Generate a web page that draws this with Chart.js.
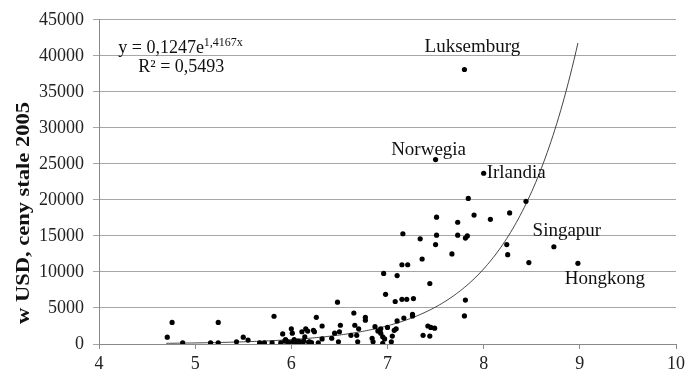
<!DOCTYPE html>
<html><head><meta charset="utf-8">
<script src="https://cdn.jsdelivr.net/npm/chart.js@4/dist/chart.umd.min.js"></script>
<style>html,body{margin:0;padding:0;background:#fff}</style>
</head><body>
<canvas id="c" width="689" height="372" style="width:689px;height:372px;display:block"></canvas>
<script>
// Scatter data: log-variable (x) vs value in USD (y)
const xValues = [4.71,4.76,4.87,5.16,5.24,5.24,5.43,5.50,5.55,5.67,5.72,5.80,5.82,5.89,5.91,5.93,5.96,6.00,6.01,6.03,
  6.06,6.07,6.11,6.12,6.14,6.15,6.17,6.19,6.21,6.23,6.24,6.26,6.28,6.32,6.32,6.42,6.45,6.48,6.49,6.50,
  6.51,6.62,6.65,6.66,6.68,6.69,6.70,6.77,6.77,6.84,6.85,6.93,6.93,6.95,6.95,6.96,6.97,6.98,7.00,7.04,
  7.05,7.07,7.08,7.09,7.10,7.10,7.15,7.15,7.16,7.17,7.20,7.21,7.26,7.26,7.27,7.34,7.36,7.37,7.42,7.44,
  7.44,7.45,7.49,7.50,7.51,7.51,7.67,7.73,7.73,7.80,7.81,7.81,7.83,7.84,7.90,8.07,8.24,8.25,8.27,8.44,8.47,
  5.98,6.04,6.09,6.13,6.18,5.94,6.02,6.90,6.87];
const yValues = [950,3000,150,150,3000,150,300,950,550,150,150,150,3850,150,1400,400,300,2100,1500,600,
  250,400,1700,100,1000,2100,1800,300,200,1900,1700,3700,150,2500,700,800,1500,5800,300,1700,
  2600,1200,4300,2600,1200,300,2100,3700,3300,800,300,1500,2100,100,1000,9800,700,6900,2300,300,
  1100,1900,5900,2100,9500,3200,11000,6200,15300,3600,6200,11000,4100,3900,6300,14600,11800,1200,2500,1100,
  8400,2300,2200,13800,17600,15100,12500,16900,15100,3900,6100,14700,15000,20200,17900,17300,13800,12400,18200,19800,11300,
  200,150,300,450,250,600,350,1800,2400];
// Labelled countries
const countryNames = ["Luksemburg","Norwegia","Irlandia","Singapur","Hongkong"];
const countryX = [7.80,7.50,8.00,8.73,8.98];
const countryY = [38100,25600,23700,13500,11200];
// Axis ticks
const xTicks = [4,5,6,7,8,9,10];
const yTicks = [0,5000,10000,15000,20000,25000,30000,35000,40000,45000];
// Exponential trend line as printed: y = 0,1247 e^(1,4167x), R² = 0,5493
const trendA = 0.1247, trendB = 1.4167, trendR2 = "0,5493";
const trendRange = [4.70, 8.98];
const yTitle = "w USD, ceny stale 2005";

const pts = xValues.map((x,i)=>({x:x,y:yValues[i]})).concat(countryX.map((x,i)=>({x:x,y:countryY[i]})));
const trend = [];
for (let x = trendRange[0]; x <= trendRange[1] + 1e-9; x += 0.02) trend.push({x:x, y:trendA*Math.exp(trendB*x)});

const SERIF = "'Liberation Serif','Times New Roman',serif";
const labelOffsets = [[8,-22,'center'],[-7,-10,'center'],[3,0,'left'],[13,-16,'center'],[27,16,'center']];

const annot = {
  id:'annot',
  afterDraw(chart){
    const ctx = chart.ctx, xs = chart.scales.x, ys = chart.scales.y;
    ctx.save();
    ctx.fillStyle = '#111';
    ctx.textBaseline = 'middle';
    ctx.font = "19px " + SERIF;
    countryNames.forEach((n,i)=>{
      const px = xs.getPixelForValue(countryX[i]) + labelOffsets[i][0];
      const py = ys.getPixelForValue(countryY[i]) + labelOffsets[i][1];
      ctx.textAlign = labelOffsets[i][2];
      ctx.fillText(n, px, py);
    });
    // equation
    ctx.textAlign = 'left';
    ctx.font = "18px " + SERIF;
    const ex = xs.getPixelForValue(4.2), ey = ys.getPixelForValue(41000);
    const s1 = "y = " + String(trendA).replace('.',',') + "e";
    ctx.fillText(s1, ex, ey);
    const w1 = ctx.measureText(s1).width;
    ctx.font = "12px " + SERIF;
    ctx.fillText(String(trendB).replace('.',',') + "x", ex + w1, ey - 6);
    ctx.font = "18px " + SERIF;
    ctx.fillText("R\u00B2 = " + trendR2, ex + 20, ey + 19);
    // y title
    ctx.translate(24, 213);
    ctx.rotate(-Math.PI/2);
    ctx.scale(1.25, 1);
    ctx.textAlign = 'center';
    ctx.font = "bold 18px " + SERIF;
    ctx.fillText(yTitle, 0, 0);
    ctx.restore();
  }
};

new Chart(document.getElementById('c'), {
  type:'scatter',
  data:{datasets:[
    {data:pts, pointRadius:2.6, pointHoverRadius:2.6, pointBackgroundColor:'#000', pointBorderWidth:0, showLine:false, order:1},
    {data:trend, showLine:true, pointRadius:0, borderColor:'#444', borderWidth:1, fill:false, tension:0, order:2}
  ]},
  options:{
    responsive:false, animation:false, devicePixelRatio:1,
    layout:{padding:{top:17,right:11,left:0,bottom:0}},
    plugins:{legend:{display:false}, tooltip:{enabled:false}},
    scales:{
      x:{type:'linear', min:4, max:10,
        afterBuildTicks(s){ s.ticks = xTicks.map(v=>({value:v})); },
        afterFit(s){ s.height = 28; },
        grid:{drawOnChartArea:false, drawTicks:true, tickLength:5, color:'#888'},
        border:{display:true, color:'#888', width:1},
        ticks:{font:{family:SERIF, size:18}, color:'#222', padding:4, maxRotation:0, callback:v=>String(v)}
      },
      y:{type:'linear', min:0, max:45000,
        afterBuildTicks(s){ s.ticks = yTicks.map(v=>({value:v})); },
        afterFit(s){ s.width = 99; },
        grid:{color:'#a6a6a6', drawTicks:true, tickLength:6, lineWidth:1},
        border:{display:true, color:'#888', width:1},
        ticks:{font:{family:SERIF, size:18}, color:'#222', padding:9, callback:v=>String(v)}
      }
    }
  },
  plugins:[annot]
});
</script>
</body></html>
